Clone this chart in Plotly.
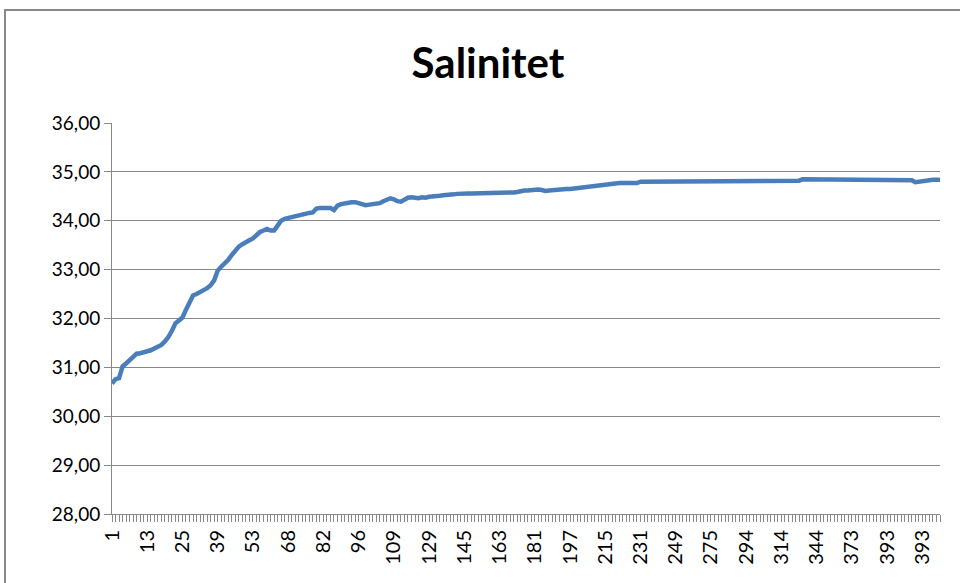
import plotly.graph_objects as go

# Category labels shown on the x axis (every 10th category)
tick_labels = ["1", "13", "25", "39", "53", "68", "82", "96", "109", "129", "145", "163",
               "181", "197", "215", "231", "249", "275", "294", "314", "344", "373", "393", "393"]

# Salinity per category
salinity = [
    30.67, 30.76, 30.78, 31.02, 31.08, 31.15, 31.22, 31.28, 31.29, 31.30,
    31.33, 31.35, 31.38, 31.42, 31.46, 31.53, 31.62, 31.75, 31.90, 31.96,
    32.02, 32.18, 32.35, 32.47, 32.50, 32.55, 32.58, 32.62, 32.68, 32.78,
    32.98, 33.06, 33.12, 33.20, 33.30, 33.40, 33.47, 33.52, 33.57, 33.60,
    33.64, 33.70, 33.77, 33.80, 33.83, 33.80, 33.80, 33.90, 34.00, 34.04,
    34.06, 34.07, 34.08, 34.10, 34.14, 34.15, 34.16, 34.17, 34.25, 34.26,
    34.26, 34.26, 34.26, 34.22, 34.31, 34.34, 34.36, 34.37, 34.38, 34.38,
    34.36, 34.34, 34.32, 34.33, 34.34, 34.35, 34.36, 34.40, 34.44, 34.46,
    34.44, 34.40, 34.39, 34.44, 34.47, 34.48, 34.47, 34.46, 34.48, 34.47,
    34.49, 34.49, 34.50, 34.51, 34.52, 34.52, 34.53, 34.54, 34.55, 34.56,
    34.56, 34.56, 34.56, 34.56, 34.56, 34.56, 34.56, 34.56, 34.56, 34.57,
    34.58, 34.58, 34.58, 34.58, 34.58, 34.59, 34.61, 34.62, 34.62, 34.63,
    34.63, 34.64, 34.63, 34.61, 34.62, 34.63, 34.64, 34.64, 34.64, 34.65,
    34.65, 34.66, 34.66, 34.67, 34.68, 34.69, 34.70, 34.71, 34.72, 34.73,
    34.74, 34.75, 34.76, 34.77, 34.77, 34.77, 34.77, 34.77, 34.77, 34.77,
    34.80, 34.80, 34.80, 34.80, 34.80, 34.80, 34.80, 34.80, 34.80, 34.80,
    34.80, 34.80, 34.82, 34.82, 34.82, 34.82, 34.82, 34.82, 34.82, 34.82,
    34.82, 34.82, 34.82, 34.82, 34.82, 34.82, 34.82, 34.82, 34.82, 34.82,
    34.82, 34.82, 34.82, 34.82, 34.82, 34.82, 34.82, 34.82, 34.82, 34.82,
    34.82, 34.82, 34.82, 34.82, 34.82, 34.82, 34.85, 34.85, 34.85, 34.85,
    34.85, 34.85, 34.85, 34.85, 34.85, 34.85, 34.85, 34.85, 34.85, 34.85,
    34.85, 34.85, 34.85, 34.85, 34.85, 34.85, 34.85, 34.85, 34.85, 34.85,
    34.85, 34.85, 34.85, 34.85, 34.85, 34.85, 34.85, 34.83, 34.79, 34.80,
    34.83, 34.84, 34.84, 34.84, 34.84, 34.84,
]

LABEL_STEP = 10
positions = list(range(len(salinity)))
tick_positions = [k * LABEL_STEP for k in range(len(tick_labels))]

LEFT, RIGHT, TOP, BOTTOM = 112, 940, 123, 514
W, H = 960, 583
pw, ph = RIGHT - LEFT, BOTTOM - TOP

grid_col = "#888888"
FONT = "Lato, 'Open Sans', sans-serif"

fig = go.Figure()
fig.add_trace(go.Scatter(
    x=positions, y=salinity, mode="lines",
    line=dict(color="#4A7EBB", width=4.5),
    hoverinfo="skip", showlegend=False,
))

fig.update_layout(
    width=W, height=H, autosize=False,
    margin=dict(l=LEFT, r=W - RIGHT, t=TOP, b=H - BOTTOM, pad=0),
    paper_bgcolor="white", plot_bgcolor="white",
    separators=",.",
    font=dict(family=FONT, color="#000000"),
    title=dict(text="<b>Salinitet</b>", x=488 / W, xanchor="center",
               y=1 - 63 / H, yanchor="middle",
               font=dict(size=42, family=FONT, color="#000000")),
    showlegend=False,
)

fig.update_xaxes(
    range=[0, len(salinity) - 1],
    tickmode="array", tickvals=tick_positions, ticktext=tick_labels,
    tickangle=-90, tickfont=dict(size=20),
    ticks="outside", ticklen=7, tickcolor=grid_col, tickwidth=1,
    minor=dict(dtick=1, tick0=0, ticks="outside", ticklen=7, tickcolor=grid_col,
               tickwidth=1, showgrid=False),
    showline=True, linecolor=grid_col, linewidth=1,
    showgrid=False, zeroline=False,
)

fig.update_yaxes(
    range=[28, 36], dtick=1, tick0=28, tickformat=".2f",
    tickfont=dict(size=19),
    ticks="outside", ticklen=7, tickcolor=grid_col, tickwidth=1,
    showline=True, linecolor=grid_col, linewidth=1,
    showgrid=True, gridcolor=grid_col, gridwidth=1, zeroline=False,
)

# Outer chart-area border (extends past the visible crop at right/bottom)
fig.add_shape(type="rect", xref="paper", yref="paper",
              x0=(5 - LEFT) / pw, x1=(W + 10 - LEFT) / pw,
              y0=(BOTTOM - (H + 10)) / ph, y1=(BOTTOM - 10) / ph,
              line=dict(color="#888888", width=2), fillcolor="rgba(0,0,0,0)", layer="below")

fig.write_html("out.html", config={"displayModeBar": False},
               post_script="document.body.style.margin='0px';")
